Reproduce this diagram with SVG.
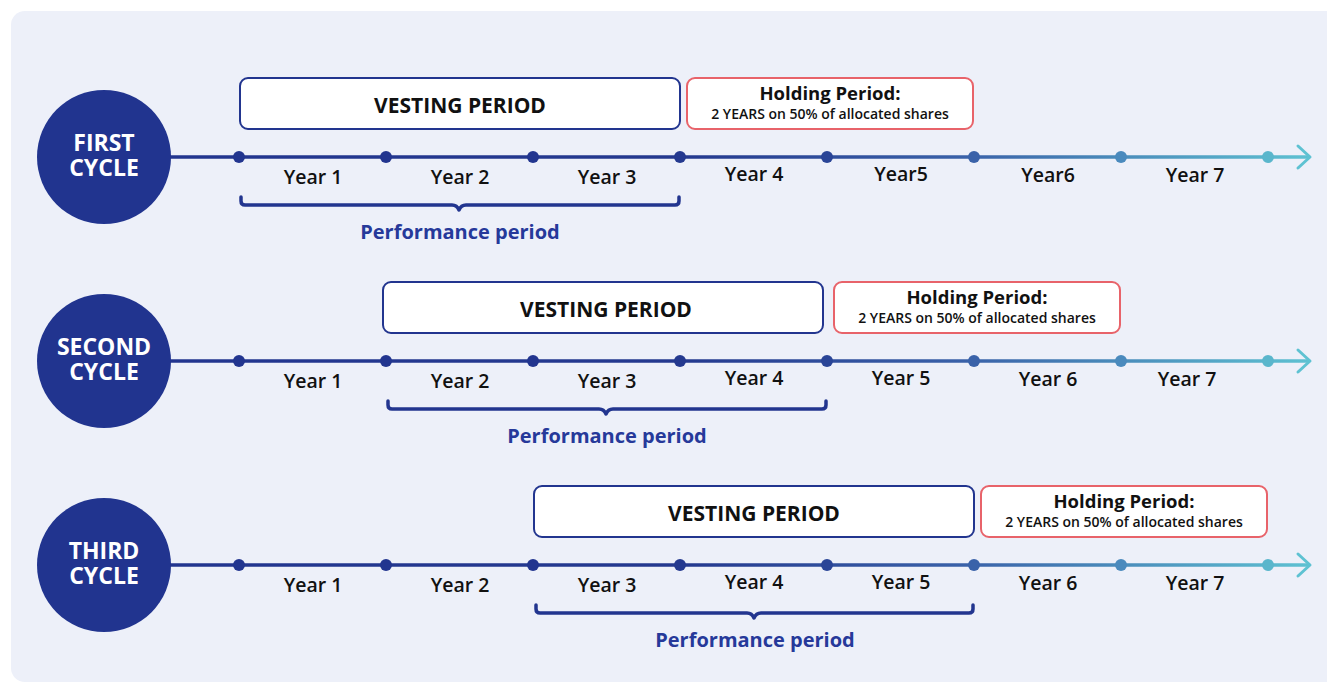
<svg xmlns="http://www.w3.org/2000/svg" width="1327" height="683" viewBox="0 0 1327 683">
  <defs>
    <linearGradient id="axis" gradientUnits="userSpaceOnUse" x1="170" y1="0" x2="1312" y2="0">
      <stop offset="0" stop-color="#22358f"/>
      <stop offset="0.45" stop-color="#24398f"/>
      <stop offset="0.7" stop-color="#3a62a9"/>
      <stop offset="1" stop-color="#5ec2d2"/>
    </linearGradient>
    <style>
      .panel { fill: #edf0f9; }
      .cycle { fill: #21348f; }
      .cycle-txt { font-family: "Open Sans", Lato, sans-serif; font-weight: 700; font-size: 23px; fill: #ffffff; text-anchor: middle; }
      .axis { stroke: url(#axis); stroke-width: 3.5; fill: none; }
      .arrow { stroke: #5ec2d2; stroke-width: 3; fill: none; stroke-linecap: round; stroke-linejoin: round; }
      .vest { fill: #ffffff; stroke: #22358f; stroke-width: 2; }
      .vest-txt { font-family: "Open Sans", Lato, sans-serif; font-weight: 700; font-size: 21px; fill: #111111; text-anchor: middle; }
      .hold { fill: #ffffff; stroke: #e8636a; stroke-width: 2; }
      .hold-t { font-family: "Open Sans", Lato, sans-serif; font-weight: 700; font-size: 18.5px; fill: #111111; text-anchor: middle; }
      .hold-s { font-family: "Open Sans", Lato, sans-serif; font-weight: 600; font-size: 14px; fill: #111111; text-anchor: middle; }
      .year { font-family: "Open Sans", Lato, sans-serif; font-weight: 600; font-size: 19.5px; fill: #111111; text-anchor: middle; }
      .brace { stroke: #22358f; stroke-width: 3.5; fill: none; stroke-linecap: round; stroke-linejoin: round; }
      .perf { font-family: "Open Sans", Lato, sans-serif; font-weight: 700; font-size: 20px; fill: #26399a; text-anchor: middle; }
    </style>
  </defs>

  <!-- background panel -->
  <rect class="panel" x="11" y="11" width="1340" height="671" rx="14"/>

  <!-- timeline axes -->
  <g id="connectors">
    <line class="axis" x1="170" y1="157" x2="1309" y2="157"/>
    <polyline class="arrow" points="1298,146 1310,157 1298,168"/>
    <line class="axis" x1="170" y1="361" x2="1309" y2="361"/>
    <polyline class="arrow" points="1298,350 1310,361 1298,372"/>
    <line class="axis" x1="170" y1="565" x2="1309" y2="565"/>
    <polyline class="arrow" points="1298,554 1310,565 1298,576"/>
  </g>

  <!-- year ticks -->
  <g id="ticks">
    <g transform="translate(0,157)">
      <circle cx="239" cy="0" r="6" fill="#22358f"/><circle cx="386" cy="0" r="6" fill="#22358f"/>
      <circle cx="533" cy="0" r="6" fill="#22358f"/><circle cx="680" cy="0" r="6" fill="#24398f"/>
      <circle cx="827" cy="0" r="6" fill="#2a4597"/><circle cx="974" cy="0" r="6" fill="#3a62a9"/>
      <circle cx="1121" cy="0" r="6" fill="#4a8abd"/><circle cx="1268" cy="0" r="6" fill="#5ab6cc"/>
    </g>
    <g transform="translate(0,361)">
      <circle cx="239" cy="0" r="6" fill="#22358f"/><circle cx="386" cy="0" r="6" fill="#22358f"/>
      <circle cx="533" cy="0" r="6" fill="#22358f"/><circle cx="680" cy="0" r="6" fill="#24398f"/>
      <circle cx="827" cy="0" r="6" fill="#2a4597"/><circle cx="974" cy="0" r="6" fill="#3a62a9"/>
      <circle cx="1121" cy="0" r="6" fill="#4a8abd"/><circle cx="1268" cy="0" r="6" fill="#5ab6cc"/>
    </g>
    <g transform="translate(0,565)">
      <circle cx="239" cy="0" r="6" fill="#22358f"/><circle cx="386" cy="0" r="6" fill="#22358f"/>
      <circle cx="533" cy="0" r="6" fill="#22358f"/><circle cx="680" cy="0" r="6" fill="#24398f"/>
      <circle cx="827" cy="0" r="6" fill="#2a4597"/><circle cx="974" cy="0" r="6" fill="#3a62a9"/>
      <circle cx="1121" cy="0" r="6" fill="#4a8abd"/><circle cx="1268" cy="0" r="6" fill="#5ab6cc"/>
    </g>
  </g>

  <!-- first cycle -->
  <g id="first-cycle">
    <circle class="cycle" cx="104" cy="157" r="67"/>
    <text class="cycle-txt" x="104" y="151">FIRST</text>
    <text class="cycle-txt" x="104" y="176">CYCLE</text>
  </g>
  <g id="first-vesting">
    <rect class="vest" x="240" y="78" width="440" height="51" rx="8"/>
    <text class="vest-txt" x="460" y="113">VESTING PERIOD</text>
  </g>
  <g id="first-holding">
    <rect class="hold" x="687" y="78" width="286" height="51" rx="8"/>
    <text class="hold-t" x="830" y="100">Holding Period:</text>
    <text class="hold-s" x="830" y="119">2 YEARS on 50% of allocated shares</text>
  </g>
  <g id="first-years">
    <text class="year" x="313" y="184">Year 1</text>
    <text class="year" x="460" y="184">Year 2</text>
    <text class="year" x="607" y="184">Year 3</text>
    <text class="year" x="754" y="181">Year 4</text>
    <text class="year" x="901" y="181">Year5</text>
    <text class="year" x="1048" y="182">Year6</text>
    <text class="year" x="1195" y="182">Year 7</text>
  </g>
  <g id="first-performance">
    <path class="brace" d="M241,197 V201 Q241,205 245,205 H452 Q457,205 459,210 Q461,205 466,205 H675 Q679,205 679,201 V197"/>
    <text class="perf" x="460" y="239">Performance period</text>
  </g>

  <!-- second cycle -->
  <g id="second-cycle">
    <circle class="cycle" cx="104" cy="361" r="67"/>
    <text class="cycle-txt" x="104" y="355">SECOND</text>
    <text class="cycle-txt" x="104" y="380">CYCLE</text>
  </g>
  <g id="second-vesting">
    <rect class="vest" x="383" y="282" width="440" height="51" rx="8"/>
    <text class="vest-txt" x="606" y="317">VESTING PERIOD</text>
  </g>
  <g id="second-holding">
    <rect class="hold" x="834" y="282" width="286" height="51" rx="8"/>
    <text class="hold-t" x="977" y="304">Holding Period:</text>
    <text class="hold-s" x="977" y="323">2 YEARS on 50% of allocated shares</text>
  </g>
  <g id="second-years">
    <text class="year" x="313" y="388">Year 1</text>
    <text class="year" x="460" y="388">Year 2</text>
    <text class="year" x="607" y="388">Year 3</text>
    <text class="year" x="754" y="385">Year 4</text>
    <text class="year" x="901" y="385">Year 5</text>
    <text class="year" x="1048" y="386">Year 6</text>
    <text class="year" x="1187" y="386">Year 7</text>
  </g>
  <g id="second-performance">
    <path class="brace" d="M388,401 V405 Q388,409 392,409 H599 Q604,409 606,414 Q608,409 613,409 H822 Q826,409 826,405 V401"/>
    <text class="perf" x="607" y="443">Performance period</text>
  </g>

  <!-- third cycle -->
  <g id="third-cycle">
    <circle class="cycle" cx="104" cy="565" r="67"/>
    <text class="cycle-txt" x="104" y="559">THIRD</text>
    <text class="cycle-txt" x="104" y="584">CYCLE</text>
  </g>
  <g id="third-vesting">
    <rect class="vest" x="534" y="486" width="440" height="51" rx="8"/>
    <text class="vest-txt" x="754" y="521">VESTING PERIOD</text>
  </g>
  <g id="third-holding">
    <rect class="hold" x="981" y="486" width="286" height="51" rx="8"/>
    <text class="hold-t" x="1124" y="508">Holding Period:</text>
    <text class="hold-s" x="1124" y="527">2 YEARS on 50% of allocated shares</text>
  </g>
  <g id="third-years">
    <text class="year" x="313" y="592">Year 1</text>
    <text class="year" x="460" y="592">Year 2</text>
    <text class="year" x="607" y="592">Year 3</text>
    <text class="year" x="754" y="589">Year 4</text>
    <text class="year" x="901" y="589">Year 5</text>
    <text class="year" x="1048" y="590">Year 6</text>
    <text class="year" x="1195" y="590">Year 7</text>
  </g>
  <g id="third-performance">
    <path class="brace" d="M536,605 V609 Q536,613 540,613 H747 Q752,613 754,618 Q756,613 761,613 H969 Q973,613 973,609 V605"/>
    <text class="perf" x="755" y="647">Performance period</text>
  </g>
</svg>
